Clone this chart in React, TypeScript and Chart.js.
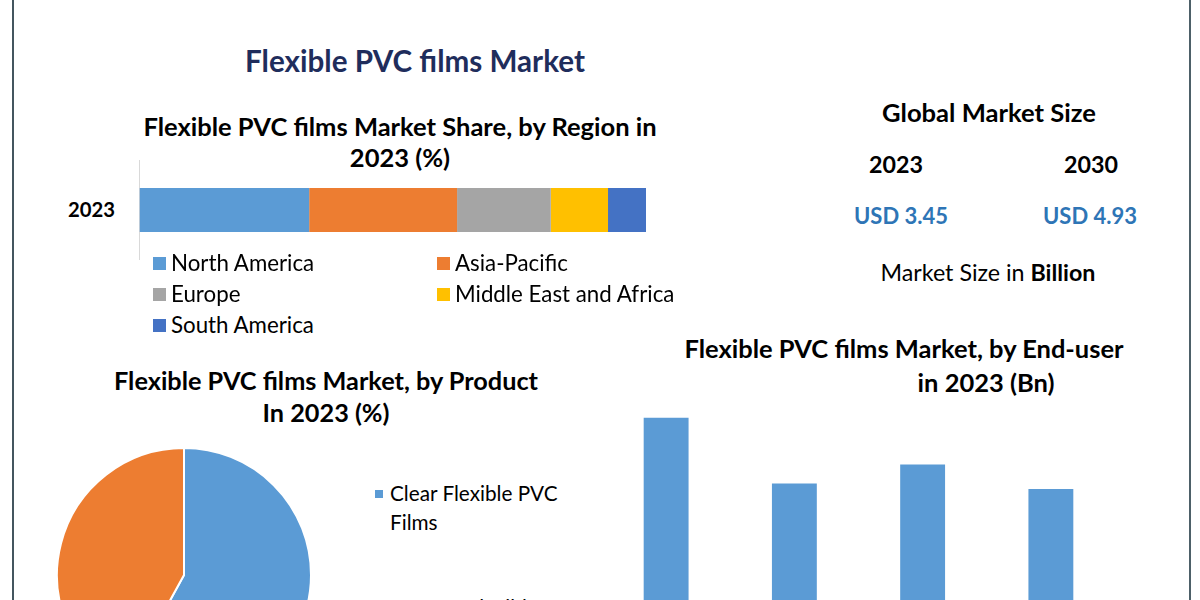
import React, { useEffect, useRef } from "react";
import { Chart, registerables } from "chart.js";

Chart.register(...registerables);

// ---------- data ----------
const regionLabels = ["North America", "Asia-Pacific", "Europe", "Middle East and Africa", "South America"];
const regionShares = [33.5, 29.2, 18.5, 11.3, 7.5];
const regionColors = ["#5b9bd5", "#ed7d31", "#a5a5a5", "#ffc000", "#4472c4"];
const regionYears = ["2023"];

const productLabels = ["Clear Flexible PVC Films", "Opaque Flexible PVC Films"];
const productShares = [58, 42];
const productColors = ["#5b9bd5", "#ed7d31"];

const endUserLabels = ["Packaging", "Construction", "Automotive", "Others"];
const endUserValues = [1.03, 0.79, 0.86, 0.77];

const marketYears = ["2023", "2030"];
const marketValues = ["USD 3.45", "USD 4.93"];

// ---------- helpers ----------
const FONT = "Lato, 'Open Sans', sans-serif";
type Seg = { t: string; w: number };
let mctx: CanvasRenderingContext2D | null = null;
function fitSize(segs: Seg[], target: number): number {
  if (!mctx) mctx = document.createElement("canvas").getContext("2d");
  let total = 0;
  for (const s of segs) {
    mctx!.font = `${s.w} 100px ${FONT}`;
    total += mctx!.measureText(s.t).width;
  }
  return (target * 100) / total;
}

function Txt(props: {
  segs: Seg[];
  x: number;
  y: number;
  width?: number;
  size?: number;
  color?: string;
  anchor?: "center" | "left";
}) {
  const { segs, x, y, width, color = "#000", anchor = "center" } = props;
  const fs = props.size ?? fitSize(segs, width || 100);
  const style: React.CSSProperties = {
    position: "absolute",
    top: y - fs / 2,
    left: x,
    transform: anchor === "center" ? "translateX(-50%)" : undefined,
    fontSize: fs,
    lineHeight: 1,
    whiteSpace: "nowrap",
    color,
    fontFamily: FONT,
  };
  return (
    <div style={style}>
      {segs.map((s, i) => (
        <span key={i} style={{ fontWeight: s.w }}>
          {s.t}
        </span>
      ))}
    </div>
  );
}

function ChartBox(props: { make: () => any; left: number; top: number; width: number; height: number }) {
  const ref = useRef<HTMLCanvasElement>(null);
  useEffect(() => {
    const c = new Chart(ref.current!, props.make());
    return () => c.destroy();
  }, []);
  return (
    <canvas
      ref={ref}
      width={props.width}
      height={props.height}
      style={{ position: "absolute", left: props.left, top: props.top, width: props.width, height: props.height }}
    />
  );
}

const regionConfig = () => ({
  type: "bar",
  data: {
    labels: regionYears,
    datasets: regionLabels.map((l, i) => ({
      label: l,
      data: [regionShares[i]],
      backgroundColor: regionColors[i],
      borderWidth: 0,
      barPercentage: 0.44,
      categoryPercentage: 1,
    })),
  },
  options: {
    indexAxis: "y",
    animation: false,
    responsive: false,
    layout: { padding: { left: 0, right: 14, top: 0, bottom: 0 } },
    plugins: { legend: { display: false }, tooltip: { enabled: false } },
    scales: {
      x: { stacked: true, display: false, min: 0, max: 100 },
      y: {
        stacked: true,
        grid: { display: false },
        border: { display: true, color: "#d9d9d9", width: 1 },
        ticks: { display: false },
        afterFit: (s: any) => {
          s.width = 9.5;
        },
      },
    },
  },
});

const productConfig = () => ({
  type: "pie",
  data: {
    labels: productLabels,
    datasets: [{ data: productShares, backgroundColor: productColors, borderColor: "#ffffff", borderWidth: 2 }],
  },
  options: {
    animation: false,
    responsive: false,
    layout: { padding: 0 },
    plugins: { legend: { display: false }, tooltip: { enabled: false } },
  },
});

const endUserConfig = () => ({
  type: "bar",
  data: {
    labels: endUserLabels,
    datasets: [
      {
        data: endUserValues,
        backgroundColor: "#5b9bd5",
        borderWidth: 0,
        barPercentage: 0.35,
        categoryPercentage: 1,
      },
    ],
  },
  options: {
    animation: false,
    responsive: false,
    layout: { padding: 0 },
    plugins: { legend: { display: false }, tooltip: { enabled: false } },
    scales: {
      x: { display: false },
      y: { display: false, min: 0, max: 1.095 },
    },
  },
});

export default function App() {
  const legSize = fitSize([{ t: "North America", w: 400 }], 144);
  const pieLegSize = fitSize([{ t: "Clear Flexible PVC", w: 400 }], 168);
  const subSize = fitSize([{ t: "Flexible PVC films Market Share, by Region in", w: 700 }], 514);
  const pieTitleSize = fitSize([{ t: "Flexible PVC films Market, by Product", w: 700 }], 425);
  const endTitleSize = fitSize([{ t: "Flexible PVC films Market, by End-user", w: 700 }], 440);
  const yearSize = fitSize([{ t: "2023", w: 700 }], 54);
  const usdSize = fitSize([{ t: "USD 3.45", w: 700 }], 94);

  const legendPos = [
    { x: 153, y: 263 },
    { x: 437, y: 263 },
    { x: 153, y: 294 },
    { x: 437, y: 294 },
    { x: 153, y: 325 },
  ];

  return (
    <div
      style={{
        position: "fixed",
        left: 0,
        top: 0,
        width: 1200,
        height: 600,
        overflow: "hidden",
        background: "#ffffff",
        fontFamily: FONT,
      }}
    >
      {/* frame */}
      <div style={{ position: "absolute", left: 12, top: 0, width: 2, height: 600, background: "#44565f" }} />
      <div style={{ position: "absolute", left: 1189, top: 0, width: 2, height: 600, background: "#4d6068" }} />

      {/* main title */}
      <Txt segs={[{ t: "Flexible PVC films Market", w: 700 }]} x={415} y={61} width={340} color="#1f2d5c" />

      {/* region share */}
      <Txt segs={[{ t: "Flexible PVC films Market Share, by Region in", w: 700 }]} x={400} y={127} size={subSize} />
      <Txt segs={[{ t: "2023 (%)", w: 700 }]} x={400} y={158} size={subSize} />
      <Txt segs={[{ t: regionYears[0], w: 700 }]} x={91.5} y={209} width={47} />
      <ChartBox make={regionConfig} left={130} top={160} width={530} height={100} />
      {regionLabels.map((l, i) => (
        <React.Fragment key={l}>
          <div
            style={{
              position: "absolute",
              left: legendPos[i].x,
              top: legendPos[i].y - 6,
              width: 13,
              height: 13,
              background: regionColors[i],
            }}
          />
          <Txt segs={[{ t: l, w: 400 }]} x={legendPos[i].x + 18} y={legendPos[i].y} size={legSize} anchor="left" />
        </React.Fragment>
      ))}

      {/* global market size */}
      <Txt segs={[{ t: "Global Market Size", w: 700 }]} x={989} y={113} width={214} />
      <Txt segs={[{ t: marketYears[0], w: 700 }]} x={896} y={165} size={yearSize} />
      <Txt segs={[{ t: marketYears[1], w: 700 }]} x={1091} y={165} size={yearSize} />
      <Txt segs={[{ t: marketValues[0], w: 700 }]} x={901} y={216} size={usdSize} color="#2e75b6" />
      <Txt segs={[{ t: marketValues[1], w: 700 }]} x={1090} y={216} size={usdSize} color="#2e75b6" />
      <Txt
        segs={[
          { t: "Market Size in ", w: 400 },
          { t: "Billion", w: 700 },
        ]}
        x={988}
        y={273}
        width={215}
      />

      {/* product pie */}
      <Txt segs={[{ t: "Flexible PVC films Market, by Product", w: 700 }]} x={326} y={381} size={pieTitleSize} />
      <Txt segs={[{ t: "In 2023 (%)", w: 700 }]} x={326} y={413} size={pieTitleSize} />
      <ChartBox make={productConfig} left={56} top={447} width={256} height={256} />
      <div style={{ position: "absolute", left: 375, top: 490, width: 8, height: 8, background: productColors[0] }} />
      <Txt segs={[{ t: "Clear Flexible PVC", w: 400 }]} x={390} y={493} size={pieLegSize} anchor="left" />
      <Txt segs={[{ t: "Films", w: 400 }]} x={390} y={522} size={pieLegSize} anchor="left" />
      <div style={{ position: "absolute", left: 375, top: 604, width: 8, height: 8, background: productColors[1] }} />
      <Txt segs={[{ t: "Opaque Flexible", w: 400 }]} x={390} y={607} size={pieLegSize} anchor="left" />

      {/* end-user bars */}
      <Txt segs={[{ t: "Flexible PVC films Market, by End-user", w: 700 }]} x={904} y={349} size={endTitleSize} />
      <Txt segs={[{ t: "in 2023 (Bn)", w: 700 }]} x={986} y={383} size={endTitleSize} />
      <ChartBox make={endUserConfig} left={602} top={400} width={513} height={300} />
    </div>
  );
}
